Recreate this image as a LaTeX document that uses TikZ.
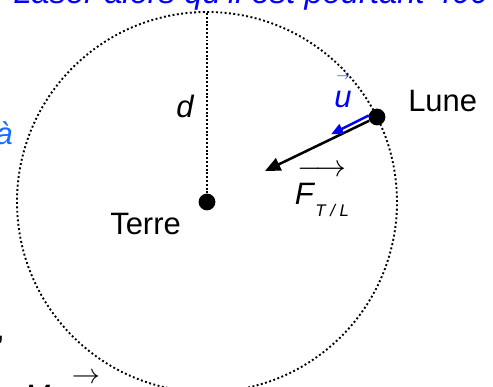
\RequirePackage{fix-cm}
\documentclass[tikz,border=0pt]{standalone}
\usepackage{fontspec}
\setmainfont{Liberation Sans}
\usepackage{tikz}
\usetikzlibrary{arrows.meta,calc,positioning}
\definecolor{ucolor}{RGB}{0,0,255}
\definecolor{acolor}{RGB}{20,110,255}

\begin{document}
\begin{tikzpicture}[>={Triangle},
  lbl/.style={inner sep=0pt,font=\fontsize{22}{26}\selectfont},
  planet/.style={circle,fill=black,inner sep=0pt,minimum size=0.42cm},
  orbit/.style={line width=1.35pt,dash pattern=on 1.35pt off 1.75pt},
  ray/.style={line width=1.5pt,dash pattern=on 1.4pt off 1.3pt},
  force/.style={-{Triangle[length=11pt,width=9.5pt]},line width=1.8pt},
  unit/.style={-{Triangle[length=8.5pt,width=7.5pt]},line width=1.7pt,ucolor}]
  \useasboundingbox (0,0) rectangle (12.325,9.675);
  % Earth, Moon and the orbit
  \node[planet] (terre) at (5.175,4.625) {};
  \node[planet] (lune) at (9.425,6.75) {};
  \coordinate (top) at ($(terre.center)+(0,4.75)$);
  \draw[orbit] (terre.center) circle (4.75);
  \draw[ray] (terre) -- (top);
  % force and unit vector
  \coordinate (ftip) at (6.625,5.4);
  \coordinate (ubase) at (9.22,6.79);
  \coordinate (utip) at (8.28,6.32);
  \draw[force] (lune) -- (ftip);
  \draw[unit] (ubase) -- (utip);
  % labels
  \node[lbl,anchor=base west] (terrelabel) at (2.75,3.8) {Terre};
  \node[lbl,anchor=base west] (lunelabel) at (10.2,6.875) {Lune};
  \node[lbl,anchor=base west] (dlabel) at (4.4,6.725) {\textit{d}};
  \node[lbl,anchor=south,align=center,ucolor] (ulabel) at (8.575,6.975)
    {{\fontsize{9}{9}\selectfont$\rightarrow$}\\[-6pt]\textit{u}};
  \node[lbl,align=center] (flabel) at (8.05,4.9)
    {$\longrightarrow$\\[-6pt]\textit{F}\raisebox{-0.4em}{\fontsize{12}{12}\selectfont\textit{T / L}}};
  % pieces of the text around the figure
  \node[inner sep=0pt,anchor=base west,text=ucolor,font=\fontsize{23.3}{28}\selectfont\itshape]
    (toptext) at (0.325,9.575) {Laser alors qu'il est pourtant 400};
  \node[lbl,anchor=base east,acolor] (aside) at (0.325,6.05) {\textit{à}};
  \node[lbl,anchor=base east] (comma) at (0.125,1.175) {,};
  \node[lbl,anchor=base west] (mtext) at (0.6,-0.5) {\textit{M}};
  \node[lbl,anchor=south,align=center] (mvec) at (2.15,-0.6)
    {{\fontsize{20}{20}\selectfont$\rightarrow$}\\[-7pt]\textit{u}};
\end{tikzpicture}
\end{document}
